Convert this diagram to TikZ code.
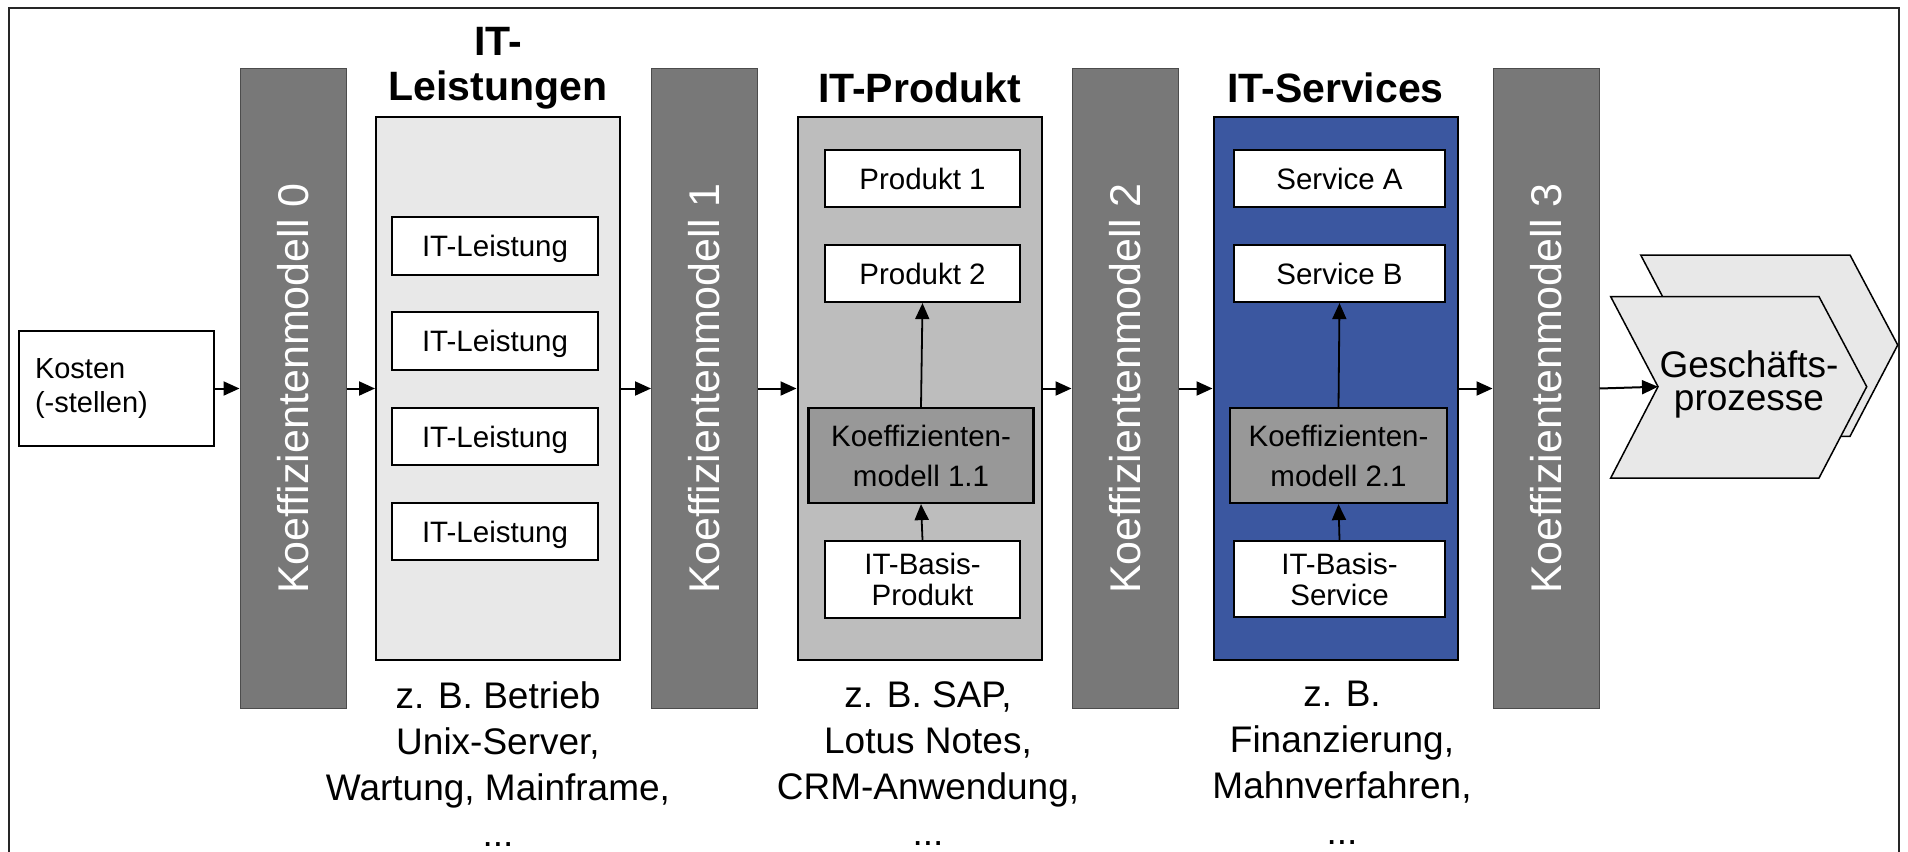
\documentclass[tikz,border=0pt]{standalone}
\usepackage{fontspec}
\setmainfont{Liberation Sans}
\definecolor{barfill}{RGB}{120,120,120}
\definecolor{lightpanel}{RGB}{232,232,232}
\definecolor{midpanel}{RGB}{189,189,189}
\definecolor{darkbox}{RGB}{152,152,152}
\definecolor{servblue}{RGB}{59,87,160}
\usetikzlibrary{arrows.meta,positioning}

\begin{document}
\begin{tikzpicture}[x=1pt, y=-1pt,
    kbar/.style={draw=black!70, line width=1pt, fill=barfill, text=white, minimum width=106pt, minimum height=639pt, inner sep=0pt, font=\fontsize{43}{50}\selectfont},
    panel/.style={draw=black, line width=2pt, minimum width=244pt, minimum height=543pt, inner sep=0pt},
    item/.style={draw=black, line width=2.2pt, fill=white, inner sep=0pt, align=center, font=\fontsize{29.5}{31}\selectfont},
    koef/.style={item, fill=darkbox, font=\fontsize{29.5}{40}\selectfont},
    coltitle/.style={inner sep=0pt, align=center, font=\bfseries\fontsize{41}{45}\selectfont},
    example/.style={inner sep=0pt, align=center, anchor=north, font=\fontsize{37}{46}\selectfont},
    flow/.style={-{Triangle[length=16pt,width=14pt]}, line width=2pt},
    uparrow/.style={-{Triangle[length=16pt,width=14pt]}, line width=1.8pt}]
  \path[use as bounding box, fill=white] (0,0) rectangle (1908,851);
  \draw[black!85, line width=2pt] (9,8) rectangle (1899,900);

  \node[item, minimum width=195pt, minimum height=115pt, text width=163pt, align=left, font=\fontsize{29}{34}\selectfont] (kosten) at (116.5,388.5) {Kosten\\(-stellen)};

  \node[kbar] (k0) at (293,388.5) {\rotatebox{90}{Koeffizientenmodell 0}};
  \node[kbar] (k1) at (704.5,388.5) {\rotatebox{90}{Koeffizientenmodell 1}};
  \node[kbar] (k2) at (1125,388.5) {\rotatebox{90}{Koeffizientenmodell 2}};
  \node[kbar] (k3) at (1546,388.5) {\rotatebox{90}{Koeffizientenmodell 3}};

  \node[panel, fill=lightpanel] (pl) at (498,388.5) {};
  \node[panel, fill=midpanel] (pp) at (919.5,388.5) {};
  \node[panel, fill=servblue] (ps) at (1335.5,388.5) {};

  \node[coltitle, anchor=south] (tl) at (498,109) {IT-\\Leistungen};
  \node[coltitle, anchor=base] (tp) at (919.5,102) {IT-Produkt};
  \node[coltitle, anchor=base] (ts) at (1335.5,102) {IT-Services};

  \node[item, minimum width=206pt, minimum height=58pt, text depth=0pt] (l1) at (495,246) {IT-Leistung};
  \node[item, minimum width=206pt, minimum height=58pt, text depth=0pt] (l2) at (495,341) {IT-Leistung};
  \node[item, minimum width=206pt, minimum height=57pt, text depth=0pt] (l3) at (495,436.5) {IT-Leistung};
  \node[item, minimum width=206pt, minimum height=57pt, text depth=0pt] (l4) at (495,531.5) {IT-Leistung};

  \node[item, minimum width=195pt, minimum height=57pt] (p1) at (922.5,178.5) {Produkt 1};
  \node[item, minimum width=195pt, minimum height=57pt] (p2) at (922.5,273.5) {Produkt 2};
  \node[koef, minimum width=225pt, minimum height=95pt] (kp) at (921,455.5) {Koeffizienten-\\modell 1.1};
  \node[item, minimum width=195pt, minimum height=77pt] (bp) at (922.5,579.5) {IT-Basis-\\Produkt};

  \node[item, minimum width=211pt, minimum height=57pt] (sa) at (1339.5,178.5) {Service A};
  \node[item, minimum width=211pt, minimum height=57pt] (sb) at (1339.5,273.5) {Service B};
  \node[koef, minimum width=217pt, minimum height=95pt] (ks) at (1338.5,455.5) {Koeffizienten-\\modell 2.1};
  \node[item, minimum width=211pt, minimum height=76pt] (bs) at (1339.5,579) {IT-Basis-\\Service};

  \draw[uparrow] (kp.north) -- (p2.south);
  \draw[uparrow] (bp.north) -- (kp.south);
  \draw[uparrow] (ks.north) -- (sb.south);
  \draw[uparrow] (bs.north) -- (ks.south);

  \node[example] (el) at (498,681) {z. B. Betrieb\\Unix-Server,\\Wartung, Mainframe,\\...};
  \node[example] (ep) at (928,681) {z. B. SAP,\\Lotus Notes,\\CRM-Anwendung,\\...};
  \node[example] (es) at (1342,681) {z. B.\\Finanzierung,\\Mahnverfahren,\\...};

  \draw[fill=lightpanel, line width=1.5pt] (1640.7,255) -- (1850,255) -- (1897.7,345) -- (1850,436.3) -- (1640.7,436.3) -- (1688,345) -- cycle;
  \draw[fill=lightpanel, line width=1.5pt] (1610.7,296.7) -- (1819,296.7) -- (1866.7,386.7) -- (1819,478) -- (1610.7,478) -- (1658,386.7) -- cycle;
  \coordinate (notch) at (1658,386.7);
  \node[inner sep=0pt, align=center, font=\fontsize{37}{33}\selectfont] (gp) at (1749,384) {Geschäfts-\\prozesse};

  \draw[flow] (kosten.east) -- (k0.west);
  \draw[flow] (k0.east) -- (pl.west);
  \draw[flow] (pl.east) -- (k1.west);
  \draw[flow] (k1.east) -- (pp.west);
  \draw[flow] (pp.east) -- (k2.west);
  \draw[flow] (k2.east) -- (ps.west);
  \draw[flow] (ps.east) -- (k3.west);
  \draw[flow] (k3.east) -- (notch);
\end{tikzpicture}
\end{document}
